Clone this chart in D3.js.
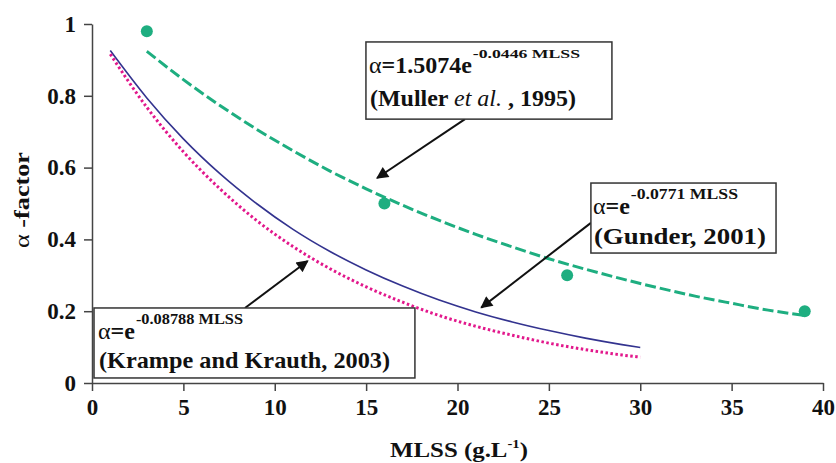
<!DOCTYPE html>
<html>
<head>
<meta charset="utf-8">
<script src="https://cdn.jsdelivr.net/npm/d3@7"></script>
<style>
  body { margin: 0; background: #fff; }
</style>
</head>
<body>
<div id="chart"></div>
<script>
// values
const xTicks = [0, 5, 10, 15, 20, 25, 30, 35, 40]
const yTicks = [0, 0.2, 0.4, 0.6, 0.8, 1]
const yTickLabels = ['0', '0.2', '0.4', '0.6', '0.8', '1']

// measured points (Muller et al.)
const obsX = [3, 16, 26, 39]
const obsY = [0.98, 0.5, 0.3, 0.2]

// Muller fit line (green dashed)
const mullerX = [3, 5, 7, 9, 11, 13, 15, 17, 19, 21, 23, 25, 27, 29, 31, 33, 35, 37, 39]
const mullerY = [0.924, 0.845, 0.773, 0.707, 0.647, 0.591, 0.541, 0.495, 0.453, 0.414, 0.379, 0.346, 0.317, 0.29, 0.265, 0.242, 0.222, 0.203, 0.188]

// Gunder line (blue solid)
const gunderX = [1, 3, 5, 7, 9, 11, 13, 15, 17, 19, 21, 23, 25, 27, 29, 30]
const gunderY = [0.926, 0.794, 0.68, 0.583, 0.5, 0.428, 0.367, 0.315, 0.27, 0.231, 0.198, 0.17, 0.146, 0.125, 0.107, 0.099]

// Krampe and Krauth line (magenta dotted)
const krampeX = [1, 3, 5, 7, 9, 11, 13, 15, 17, 19, 21, 23, 25, 27, 29, 30]
const krampeY = [0.916, 0.768, 0.644, 0.541, 0.453, 0.38, 0.319, 0.268, 0.225, 0.188, 0.158, 0.133, 0.111, 0.093, 0.078, 0.072]

const width = 836
const height = 463
const serif = '"Liberation Serif"'
const svg = d3.select('#chart').append('svg').attr('width', width).attr('height', height)

const xScale = d3.scaleLinear().domain([0, 40]).range([92, 823])
const yScale = d3.scaleLinear().domain([0, 1]).range([383, 24])

const axisColor = '#444'

// axes
const xAxis = svg.append('g').attr('transform', `translate(0,${yScale(0)})`)
  .call(d3.axisBottom(xScale).tickValues(xTicks).tickSize(8).tickSizeOuter(0).tickPadding(8))
const yAxis = svg.append('g').attr('transform', `translate(${xScale(0)},0)`)
  .call(d3.axisLeft(yScale).tickValues(yTicks).tickSize(8).tickSizeOuter(0).tickPadding(8)
    .tickFormat((d, i) => yTickLabels[i]))
for (const ax of [xAxis, yAxis]) {
  ax.attr('font-family', null).attr('font-size', 23)
  ax.select('.domain').attr('stroke', axisColor).attr('stroke-width', 1.5)
  ax.selectAll('.tick line').attr('stroke', axisColor).attr('stroke-width', 1.5)
  ax.selectAll('.tick text').attr('fill', '#111').attr('font-weight', 'bold').style('font-family', serif)
}

// axis titles
svg.append('text').attr('transform', 'translate(29,200) rotate(-90)')
  .attr('text-anchor', 'middle').attr('font-size', 22).attr('fill', '#111')
  .attr('textLength', 96).attr('lengthAdjust', 'spacingAndGlyphs')
  .style('font-family', serif)
  .call(t => {
    t.append('tspan').text('α')
    t.append('tspan').attr('font-weight', 'bold').text(' -factor')
  })
const xt = svg.append('text').attr('x', 459).attr('y', 457).attr('text-anchor', 'middle')
  .attr('font-size', 22).attr('font-weight', 'bold').attr('fill', '#111')
  .attr('textLength', 138).attr('lengthAdjust', 'spacingAndGlyphs')
  .style('font-family', serif)
xt.append('tspan').text('MLSS (g.L')
xt.append('tspan').attr('font-size', 13).attr('dy', -9).text('-1')
xt.append('tspan').attr('dy', 9).text(')')

// lines
const line = d3.line().x(d => xScale(d[0])).y(d => yScale(d[1])).curve(d3.curveMonotoneX)
svg.append('path').datum(d3.zip(gunderX, gunderY)).attr('d', line)
  .attr('fill', 'none').attr('stroke', '#33338f').attr('stroke-width', 1.6)
svg.append('path').datum(d3.zip(krampeX, krampeY)).attr('d', line)
  .attr('fill', 'none').attr('stroke', '#e2188c').attr('stroke-width', 3).attr('stroke-dasharray', '2.5,2.5')
svg.append('path').datum(d3.zip(mullerX, mullerY)).attr('d', line)
  .attr('fill', 'none').attr('stroke', '#1eae80').attr('stroke-width', 3).attr('stroke-dasharray', '11,4')

// points
svg.selectAll('circle.obs').data(d3.zip(obsX, obsY)).join('circle')
  .attr('class', 'obs').attr('cx', d => xScale(d[0])).attr('cy', d => yScale(d[1]))
  .attr('r', 6).attr('fill', '#1eae80')

// arrows (data units)
svg.append('defs').append('marker').attr('id', 'head').attr('viewBox', '0 0 10 10')
  .attr('refX', 9).attr('refY', 5).attr('markerWidth', 7).attr('markerHeight', 6)
  .attr('markerUnits', 'strokeWidth').attr('orient', 'auto')
  .append('path').attr('d', 'M0,0 L10,5 L0,10 z').attr('fill', '#111')
const arrows = [
  [20.41, 0.735, 15.6, 0.571],
  [27.3, 0.446, 21.3, 0.21],
  [8.37, 0.209, 11.8, 0.34]
]
for (const a of arrows) {
  svg.append('line').attr('x1', xScale(a[0])).attr('y1', yScale(a[1]))
    .attr('x2', xScale(a[2])).attr('y2', yScale(a[3]))
    .attr('stroke', '#111').attr('stroke-width', 2).attr('marker-end', 'url(#head)')
}

// annotation boxes: [x0, y0, x1, y1] in data units
function box(b) {
  svg.append('rect').attr('x', xScale(b[0])).attr('y', yScale(b[1]))
    .attr('width', xScale(b[2]) - xScale(b[0])).attr('height', yScale(b[3]) - yScale(b[1]))
    .attr('fill', 'white').attr('stroke', '#333').attr('stroke-width', 1.5)
}
// formula line: α + bold main part + superscript stretched to end at supEnd
function formula(x, y, size, pre, sup, supSize, supEnd) {
  const a = svg.append('text').attr('x', x).attr('y', y).attr('fill', '#111')
    .attr('font-size', size).style('font-family', serif).text('α')
  const x2 = x + a.node().getComputedTextLength()
  const m = svg.append('text').attr('x', x2).attr('y', y).attr('fill', '#111')
    .attr('font-size', size).attr('font-weight', 'bold').style('font-family', serif).text(pre)
  const x3 = x2 + m.node().getComputedTextLength() + 1
  svg.append('text').attr('x', x3).attr('y', y - size * 0.62).attr('fill', '#111')
    .attr('font-size', supSize).attr('font-weight', 'bold').style('font-family', serif)
    .attr('textLength', supEnd - x3).attr('lengthAdjust', 'spacingAndGlyphs').text(sup)
}
function source(x, y, size, len) {
  return svg.append('text').attr('x', x).attr('y', y).attr('fill', '#111')
    .attr('font-size', size).attr('font-weight', 'bold').style('font-family', serif)
    .attr('textLength', len).attr('lengthAdjust', 'spacingAndGlyphs')
}

box([14.99, 0.95, 28.45, 0.735])
formula(xScale(14.99) + 3, 73, 24, '=1.5074e', '-0.0446 MLSS', 13, 580)
const m2 = source(xScale(14.99) + 4, 106, 24, 206)
m2.append('tspan').text('(Muller ')
m2.append('tspan').attr('font-style', 'italic').attr('font-weight', 'normal').text('et al.')
m2.append('tspan').text(' , 1995)')

box([27.3, 0.557, 37.43, 0.362])
formula(xScale(27.3) + 2, 214, 24, '=e', '-0.0771 MLSS', 15, 738)
source(xScale(27.3) + 3, 244, 24, 172).text('(Gunder, 2001)')

box([0.11, 0.209, 17.67, 0.014])
formula(xScale(0.11) + 4, 339, 24, '=e', '-0.08788 MLSS', 14, 243)
source(xScale(0.11) + 5, 368, 24, 291).text('(Krampe and Krauth, 2003)')
</script>
</body>
</html>
